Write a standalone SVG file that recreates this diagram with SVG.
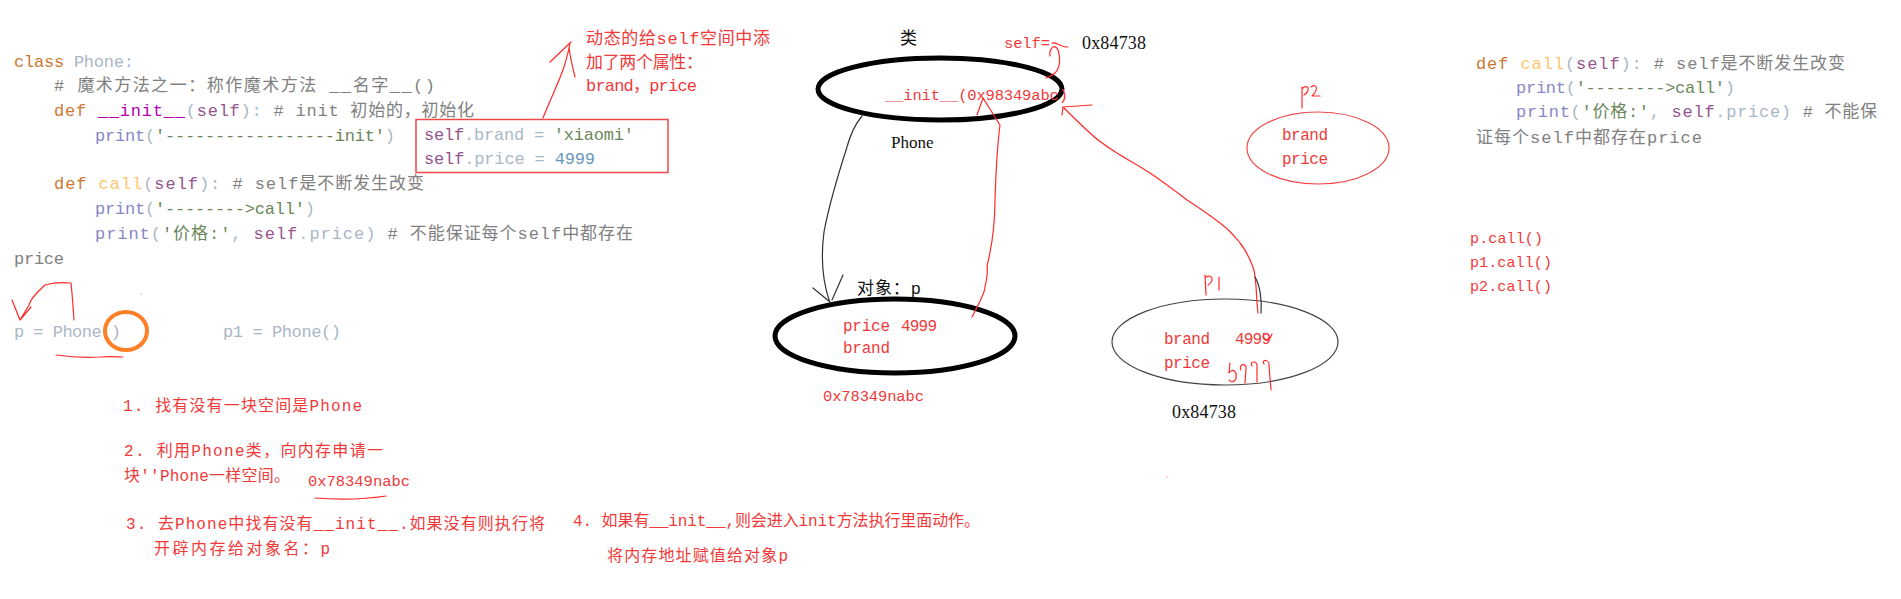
<svg xmlns="http://www.w3.org/2000/svg" width="1901" height="599" viewBox="0 0 1901 599">
<style>
.code{font-family:"Liberation Mono","Noto Sans CJK SC",monospace;font-size:17px}
.note{font-family:"Liberation Mono","Noto Sans CJK SC",monospace;font-size:16px;fill:#f03a3a}
.ser{font-family:"Liberation Serif","Noto Sans CJK SC",serif;font-size:18px;fill:#111}
.blk{font-family:"Liberation Mono","Noto Sans CJK SC",monospace;font-size:17px;fill:#111}
.kw{fill:#cc7832}.id{fill:#a9b7c6}.cm{fill:#808080}.mg{fill:#b200b2}.sf{fill:#94558d}.bi{fill:#8888c6}.st{fill:#6a8759}.fn{fill:#ffc66d}.nu{fill:#6897bb}
.ink{fill:none;stroke:#ff2a2a;stroke-width:1.2;stroke-linecap:round;stroke-linejoin:round}
.inkb{fill:none;stroke:#333;stroke-width:1.2;stroke-linecap:round;stroke-linejoin:round}
.thick{fill:none;stroke:#000;stroke-width:5}
</style>
<rect width="1901" height="599" fill="#fff"/>

<g id="code-left" class="code">
<text x="14" y="67" textLength="120"><tspan class="kw">class</tspan><tspan class="id"> Phone:</tspan></text>
<text x="54" y="91" textLength="381" class="cm"># 魔术方法之一：称作魔术方法 __名字__()</text>
<text x="54" y="116" textLength="420"><tspan class="kw">def</tspan><tspan class="mg"> __init__</tspan><tspan class="id">(</tspan><tspan class="sf">self</tspan><tspan class="id">):</tspan><tspan class="cm">  # init 初始的，初始化</tspan></text>
<text x="95" y="141" textLength="300"><tspan class="bi">print</tspan><tspan class="id">(</tspan><tspan class="st">'-----------------init'</tspan><tspan class="id">)</tspan></text>
<text x="54" y="189" textLength="370"><tspan class="kw">def</tspan><tspan class="fn"> call</tspan><tspan class="id">(</tspan><tspan class="sf">self</tspan><tspan class="id">):</tspan><tspan class="cm">  # self是不断发生改变</tspan></text>
<text x="95" y="214" textLength="220"><tspan class="bi">print</tspan><tspan class="id">(</tspan><tspan class="st">'--------&gt;call'</tspan><tspan class="id">)</tspan></text>
<text x="95" y="239" textLength="538"><tspan class="bi">print</tspan><tspan class="id">(</tspan><tspan class="st">'价格:'</tspan><tspan class="id">, </tspan><tspan class="sf">self</tspan><tspan class="id">.price)</tspan><tspan class="cm">  # 不能保证每个self中都存在</tspan></text>
<text x="14" y="264" textLength="50" class="cm">price</text>
<text x="14" y="337" textLength="107" class="id">p = Phone()</text>
<text x="223" y="337" textLength="118" class="id">p1 = Phone()</text>
</g>

<g id="assign-box">
<rect x="416" y="119.5" width="252" height="53" fill="none" stroke="#f04848" stroke-width="1.5"/>
<text class="code" x="424" y="140" textLength="210"><tspan class="sf">self</tspan><tspan class="id">.brand = </tspan><tspan class="st">'xiaomi'</tspan></text>
<text class="code" x="424" y="164" textLength="171"><tspan class="sf">self</tspan><tspan class="id">.price = </tspan><tspan class="nu">4999</tspan></text>
</g>

<g id="note-dynamic" class="note" style="font-size:17px">
<text x="586" y="44" textLength="184">动态的给self空间中添</text>
<text x="586" y="68" textLength="117">加了两个属性：</text>
<text x="586" y="91" textLength="111">brand，price</text>
</g>

<g id="class-phone">
<text class="blk" x="900" y="44">类</text>
<ellipse class="thick" cx="940" cy="89" rx="122" ry="31"/>
<text class="note" x="885" y="100" textLength="183" style="font-size:15.5px">__init__(0x98349abc)</text>
<text class="ser" x="891" y="148" style="font-size:17px">Phone</text>
<text class="note" x="1004" y="48" textLength="46" style="font-size:15.5px">self=</text>
<text class="ser" x="1082" y="49" textLength="64">0x84738</text>
</g>

<g id="object-p">
<text class="blk" x="857" y="294" textLength="64">对象：p</text>
<ellipse class="thick" cx="895" cy="336" rx="120" ry="37"/>
<text class="note" x="843" y="331" textLength="47">price</text>
<text class="note" x="901" y="331" textLength="36">4999</text>
<text class="note" x="843" y="353" textLength="47">brand</text>
<text class="note" x="823" y="401" textLength="101" style="font-size:15.5px">0x78349nabc</text>
</g>

<g id="object-p1">
<ellipse cx="1225" cy="342" rx="113" ry="43" fill="none" stroke="#444" stroke-width="1.2"/>
<text class="note" x="1164" y="344" textLength="46">brand</text>
<text class="note" x="1164" y="368" textLength="46">price</text>
<text class="note" x="1235" y="344" textLength="36">4999</text>
<path class="ink" d="M1205,275 L1206,295 M1206,277 C1212,274 1215,280 1208,285 M1219,277 L1219,290"/>
<path class="ink" d="M1264,333 C1262,340 1268,345 1272,334 M1230,363 L1229,373 C1233,368 1237,371 1236,378 C1235,382 1231,383 1229,380 M1241,370 C1238,364 1247,362 1246,369 L1245,383 M1252,366 C1249,361 1258,360 1257,367 L1257,382 M1264,364 C1261,359 1270,359 1269,366 L1271,390"/>
<text class="ser" x="1172" y="418" textLength="64">0x84738</text>
</g>

<g id="object-p2">
<path class="ink" d="M1302,87 L1302,108 M1303,88 C1308,84 1311,90 1304,95 M1311,87 C1317,83 1319,89 1312,96 L1320,96"/>
<ellipse cx="1318" cy="148" rx="71" ry="36" fill="none" stroke="#f04848" stroke-width="1.2"/>
<text class="note" x="1282" y="140" textLength="46">brand</text>
<text class="note" x="1282" y="164" textLength="46">price</text>
</g>

<g id="code-right" class="code">
<text x="1476" y="69" textLength="369"><tspan class="kw">def</tspan><tspan class="fn"> call</tspan><tspan class="id">(</tspan><tspan class="sf">self</tspan><tspan class="id">):</tspan><tspan class="cm">  # self是不断发生改变</tspan></text>
<text x="1516" y="93" textLength="219"><tspan class="bi">print</tspan><tspan class="id">(</tspan><tspan class="st">'--------&gt;call'</tspan><tspan class="id">)</tspan></text>
<text x="1516" y="117" textLength="361"><tspan class="bi">print</tspan><tspan class="id">(</tspan><tspan class="st">'价格:'</tspan><tspan class="id">, </tspan><tspan class="sf">self</tspan><tspan class="id">.price)</tspan><tspan class="cm">  # 不能保</tspan></text>
<text x="1476" y="143" textLength="226" class="cm">证每个self中都存在price</text>
</g>

<g id="calls" class="note" style="font-size:15px">
<text x="1470" y="243" textLength="73">p.call()</text>
<text x="1470" y="267" textLength="82">p1.call()</text>
<text x="1470" y="291" textLength="82">p2.call()</text>
</g>

<g id="steps" class="note">
<text x="123" y="411" textLength="239">1. 找有没有一块空间是Phone</text>
<text x="124" y="456" textLength="259">2. 利用Phone类，向内存申请一</text>
<text x="124" y="481" textLength="166">块''Phone一样空间。</text>
<text x="308" y="486" textLength="102" style="font-size:15.5px">0x78349nabc</text>
<text x="126" y="529" textLength="419">3. 去Phone中找有没有__init__.如果没有则执行将</text>
<text x="154" y="554" textLength="176">开辟内存给对象名：p</text>
<text x="573" y="526" textLength="407">4. 如果有__init__,则会进入init方法执行里面动作。</text>
<text x="607" y="561" textLength="181">将内存地址赋值给对象p</text>
</g>

<g id="connectors">
<path class="inkb" d="M862,116 C852,128 849,140 847,147 C838,175 829,205 824,232 C820,262 823,283 830,303 M813,288 L830,302 M843,275 L832,300"/>
<path class="ink" d="M972,317 C980,302 985,292 985,287 C987,278 988,272 987,266 C993,242 995,222 995,200 C996,170 998,140 1000,125 L983,98 L977,115"/>
<path class="ink" d="M1258,313 L1257,303 C1256,285 1256,275 1253,267 C1249,257 1246,250 1240,243 C1233,234 1228,229 1220,223 C1208,214 1198,207 1187,200 C1174,190 1162,181 1150,173 C1138,165 1128,160 1117,153 C1106,146 1098,141 1090,133 C1080,124 1072,116 1063,107 L1092,105 M1063,107 L1062,115"/>
<path class="inkb" d="M1255,277 C1260,285 1262,300 1261,313"/>
<path class="ink" d="M1052,43 C1056,42 1059,45 1062,46 C1064,47 1066,47 1068,47 M1050,56 C1049,48 1055,43 1058,50 C1061,58 1060,68 1055,73 C1052,76 1049,77 1046,78"/>
<path class="ink" d="M543,118 C550,100 559,82 564,67 C567,57 569,50 570,43 M550,62 L571,42 M575,77 C572,65 570,56 569,47"/>
<path class="ink" d="M74,320 C73,305 72,292 71,283 C62,282 52,283 45,285 C40,290 31,297 29,305 L20,320 M12,300 L20,320 L31,307"/>
<path class="ink" d="M56,355 C70,357 85,358 100,357 C110,356 118,357 123,357"/>
<path class="ink" d="M315,498 C340,500 360,500 386,496"/>
<ellipse cx="126" cy="331" rx="21" ry="19" fill="none" stroke="#ff7f27" stroke-width="4"/>
<circle cx="141" cy="294" r="0.8" fill="#bbb"/>
<circle cx="1167" cy="477" r="0.8" fill="#f99"/>
</g>
</svg>
